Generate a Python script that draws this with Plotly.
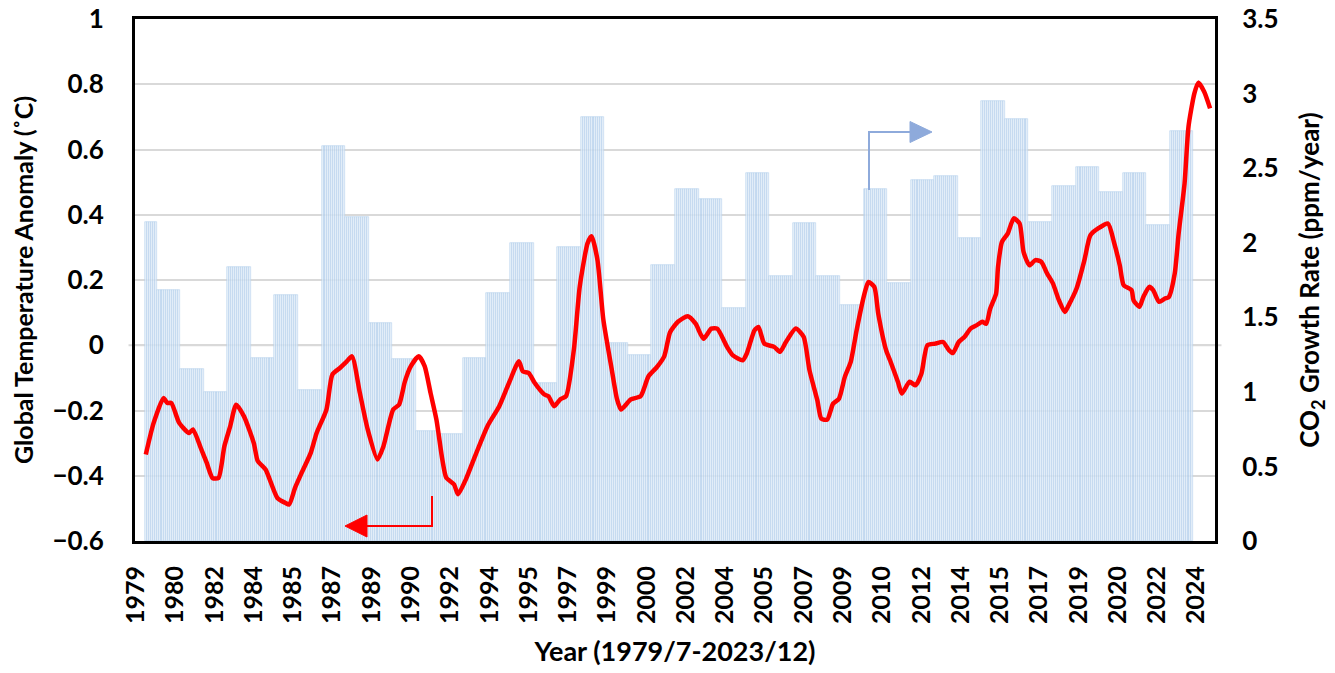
import plotly.graph_objects as go

# CO2 growth rate (ppm/year), one value per calendar year, drawn as monthly bars
co2_years = list(range(1979, 2024))
co2_growth = [2.14, 1.68, 1.15, 1.00, 1.84, 1.23, 1.65, 1.01, 2.65, 2.17,
              1.46, 1.22, 0.74, 0.72, 1.23, 1.66, 2.00, 1.06, 1.97, 2.84,
              1.33, 1.25, 1.85, 2.36, 2.29, 1.56, 2.47, 1.78, 2.13, 1.78,
              1.58, 2.36, 1.73, 2.42, 2.45, 2.03, 2.95, 2.83, 2.14, 2.38,
              2.51, 2.34, 2.47, 2.12, 2.75]

# global temperature anomaly (running mean), months counted from 1979/7
temp_month = [0, 4, 9, 11, 13, 17, 22, 24, 28, 31, 34, 37, 40, 43, 46, 50, 55, 57, 61, 67,
              71, 73, 76, 79, 84, 87, 92, 95, 99, 102, 105, 109, 113, 118, 121, 126, 129, 132, 135, 139,
              142, 145, 148, 151, 153, 157, 159, 163, 168, 174, 180, 185, 190, 192, 195, 198, 203, 205, 208, 211,
              214, 218, 221, 225, 227, 230, 233, 237, 240, 242, 247, 252, 256, 260, 264, 267, 271, 276, 280, 284,
              288, 291, 296, 299, 304, 306, 310, 312, 315, 320, 323, 326, 331, 335, 338, 342, 344, 347, 350, 353,
              356, 359, 362, 366, 368, 371, 373, 377, 379, 383, 385, 389, 392, 395, 398, 402, 406, 409, 411, 414,
              417, 420, 423, 426, 428, 430, 433, 434, 436, 439, 442, 445, 447, 450, 453, 456, 459, 462, 465, 468,
              470, 474, 478, 481, 485, 490, 493, 496, 498, 502, 503, 506, 508, 511, 513, 516, 519, 521, 524, 526,
              529, 531, 534, 536, 539, 542]
temp_anom = [-0.335, -0.238, -0.162, -0.177, -0.177, -0.238, -0.269, -0.258, -0.315, -0.36, -0.407, -0.407, -0.31, -0.248, -0.182, -0.218, -0.30, -0.355, -0.381, -0.468,
             -0.483, -0.488, -0.437, -0.396, -0.33, -0.269, -0.197, -0.09, -0.069, -0.052, -0.034, -0.146, -0.258, -0.35, -0.31, -0.197, -0.182, -0.11, -0.064, -0.034,
             -0.064, -0.146, -0.228, -0.35, -0.406, -0.427, -0.457, -0.411, -0.335, -0.248, -0.187, -0.115, -0.049, -0.08, -0.085, -0.115, -0.151, -0.156, -0.187, -0.166,
             -0.156, -0.013, 0.18, 0.313, 0.334, 0.262, 0.079, -0.064, -0.166, -0.197, -0.166, -0.156, -0.095, -0.069, -0.034, 0.04, 0.072, 0.089, 0.066, 0.02,
             0.051, 0.051, -0.005, -0.031, -0.046, -0.026, 0.046, 0.056, 0.005, -0.005, -0.02, 0.01, 0.051, 0.026, -0.077, -0.169, -0.225, -0.228, -0.179, -0.164,
             -0.097, -0.051, 0.046, 0.158, 0.194, 0.179, 0.097, -0.015, -0.046, -0.112, -0.148, -0.112, -0.123, -0.087, 0.0, 0.005, 0.01, -0.015, -0.024, 0.01,
             0.026, 0.051, 0.061, 0.072, 0.066, 0.112, 0.158, 0.24, 0.317, 0.343, 0.389, 0.373, 0.286, 0.245, 0.261, 0.256, 0.22, 0.189, 0.138, 0.102,
             0.123, 0.174, 0.261, 0.337, 0.358, 0.373, 0.317, 0.245, 0.184, 0.169, 0.138, 0.118, 0.148, 0.179, 0.169, 0.133, 0.143, 0.148, 0.22, 0.343,
             0.496, 0.67, 0.772, 0.805, 0.777, 0.726]

# category labels shown every 20 months
tick_labels = ["1979", "1980", "1982", "1984", "1985", "1987", "1989", "1990", "1992", "1994",
               "1995", "1997", "1999", "2000", "2002", "2004", "2005", "2007", "2009", "2010",
               "2012", "2014", "2015", "2017", "2019", "2020", "2022", "2024"]

# one bar per month, 1979/7 .. 2023/12
bar_x, bar_y = [], []
for m in range(534):
    yr = 1979 + (m + 6) // 12
    bar_x.append(m)
    bar_y.append(co2_growth[co2_years.index(yr)])

FONT = "Lato"
OFF = 8  # page body margin of the html

fig = go.Figure()
fig.add_trace(go.Bar(x=bar_x, y=bar_y, yaxis="y", width=1,
                     marker=dict(color="rgba(226,238,249,0.8)",
                                 line=dict(color="rgba(165,200,233,0.75)", width=0.6)),
                     showlegend=False))
fig.add_trace(go.Scatter(x=temp_month, y=temp_anom, yaxis="y2", mode="lines",
                         line=dict(color="#ff0000", width=4.5, shape="spline", smoothing=0.6),
                         showlegend=False))

W, H = 1327, 665
L, R, T, B = 127, 120, 11, 132
pw, ph = W - L - R, H - T - B


def px(x):
    return (x - OFF - L) / pw


def py(y):
    return (H - B - (y - OFF)) / ph


shapes = [
    # zero line of left axis sticking out of the frame
    dict(type="line", xref="paper", yref="y2", x0=-0.006, x1=1.006, y0=0, y1=0,
         line=dict(color="#d9d9d9", width=2), layer="below"),
    # blue arrow -> right axis
    dict(type="path", xref="paper", yref="paper",
         path=f"M {px(869)},{py(190)} L {px(869)},{py(132)} L {px(911)},{py(132)}",
         line=dict(color="#8eaadb", width=2)),
    dict(type="path", xref="paper", yref="paper",
         path=f"M {px(910)},{py(121.5)} L {px(932)},{py(132)} L {px(910)},{py(142.5)} Z",
         fillcolor="#8eaadb", line=dict(color="#8eaadb", width=1)),
    # red arrow -> left axis
    dict(type="path", xref="paper", yref="paper",
         path=f"M {px(432)},{py(496)} L {px(432)},{py(526)} L {px(366)},{py(526)}",
         line=dict(color="#ff0000", width=2)),
    dict(type="path", xref="paper", yref="paper",
         path=f"M {px(367)},{py(515)} L {px(345)},{py(526)} L {px(367)},{py(537)} Z",
         fillcolor="#ff0000", line=dict(color="#ff0000", width=1)),
]

fig.update_layout(
    width=W, height=H,
    margin=dict(l=L, r=R, t=T, b=B, autoexpand=False),
    plot_bgcolor="white", paper_bgcolor="white",
    bargap=0,
    font=dict(family=FONT, color="black", weight="bold"),
    xaxis=dict(range=[-5.5, 544.5], tickvals=[-5 + 20 * i for i in range(len(tick_labels))],
               ticktext=tick_labels, tickangle=-90, tickfont=dict(size=25, weight="bold"),
               ticks="outside", ticklen=12, tickcolor="rgba(0,0,0,0)",
               showgrid=False, zeroline=False,
               showline=True, linecolor="black", linewidth=3, mirror=True,
               title=dict(text="Year (1979/7-2023/12)", font=dict(size=27, weight="bold"), standoff=20),
               automargin=False),
    yaxis=dict(range=[0, 3.5], dtick=0.5, side="right", showgrid=False, zeroline=False,
               tickfont=dict(size=26, weight="bold"), ticklabeloverflow="allow",
               ticks="outside", ticklen=19, tickcolor="rgba(0,0,0,0)",
               showline=True, linecolor="black", linewidth=3, mirror=True,
               title=dict(text="CO<sub>2</sub> Growth Rate (ppm/year)", font=dict(size=26, weight="bold"),
                          standoff=24),
               automargin=False),
    yaxis2=dict(range=[-0.6, 1.0], dtick=0.2, side="left", overlaying="y",
                showgrid=True, gridcolor="#d9d9d9", gridwidth=2, zeroline=False,
                tickfont=dict(size=26, weight="bold"), ticklabeloverflow="allow",
                ticks="outside", ticklen=23, tickcolor="rgba(0,0,0,0)",
                showline=True, linecolor="black", linewidth=3,
                title=dict(text="Global Temperature Anomaly (˚C)", font=dict(size=25, weight="bold"),
                           standoff=18),
                automargin=False),
    shapes=shapes,
)

fig.write_html("out.html")
